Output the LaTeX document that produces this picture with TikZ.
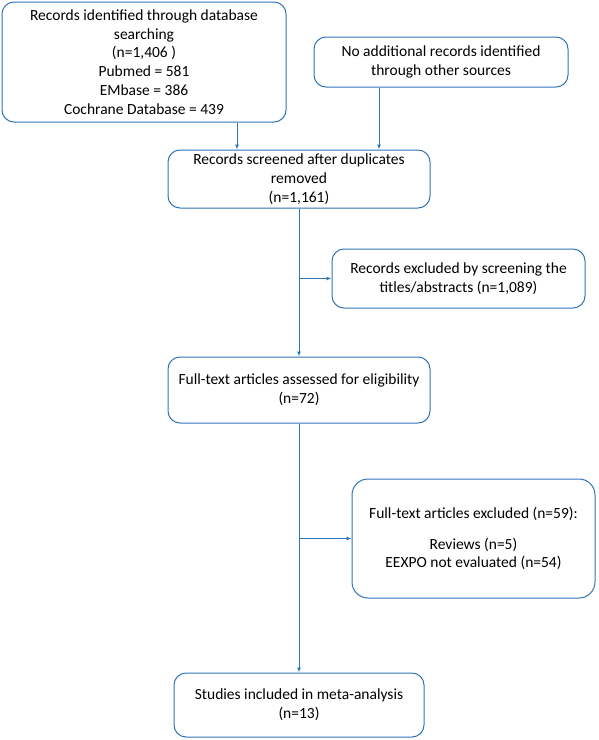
\documentclass[tikz,border=0pt]{standalone}
\usepackage{fontspec}
\setmainfont{Carlito}
\usetikzlibrary{arrows.meta}
\definecolor{flowblue}{RGB}{46,117,182}
\begin{document}
\begin{tikzpicture}[x=1pt,y=-1pt]
      \useasboundingbox (0,0) rectangle (598,740);
      \begin{scope}[every node/.style={draw=flowblue,line width=1pt,rounded corners=12pt,align=center,inner sep=0pt,font=\fontsize{15.5}{18.8}\selectfont}]
        \node[minimum width=284pt,minimum height=120pt] (ident) at (144,62) {Records identified through database\\searching\\(n=1,406 )\\Pubmed = 581\\EMbase = 386\\Cochrane Database = 439};
        \node[minimum width=254pt,minimum height=50pt] (other) at (441,62) {No additional records identified\\through other sources};
        \node[minimum width=262pt,minimum height=58pt] (screen) at (299,179) {Records screened after duplicates\\removed\\(n=1,161)};
        \node[minimum width=253pt,minimum height=59pt] (excl) at (458.5,278.5) {Records excluded by screening the\\titles/abstracts (n=1,089)};
        \node[minimum width=262pt,minimum height=66pt] (full) at (299,390) {Full-text articles assessed for eligibility\\(n=72)};
        \node[minimum width=243pt,minimum height=119pt,rounded corners=16pt] (fullex) at (473.5,538.5) {Full-text articles excluded (n=59):\\[12pt]Reviews (n=5)\\EEXPO not evaluated (n=54)};
        \node[minimum width=250pt,minimum height=64pt] (incl) at (299,705) {Studies included in meta-analysis\\(n=13)};
      \end{scope}
      \coordinate (j1) at (237,0);
      \coordinate (j2) at (379,0);
      \begin{scope}[every path/.style={draw=flowblue,line width=1pt},arr/.style={-{Latex[length=5pt,width=4pt]}}]
        \path[arr] (ident.south -| j1) -- (screen.north -| j1);
        \path[arr] (other.south -| j2) -- (screen.north -| j2);
        \path[arr] (screen) -- (full);
        \path[arr] (screen.south |- excl.west) -- (excl.west);
        \path[arr] (full) -- (incl);
        \path[arr] (full.south |- fullex.west) -- (fullex.west);
      \end{scope}
    \end{tikzpicture}
\end{document}
